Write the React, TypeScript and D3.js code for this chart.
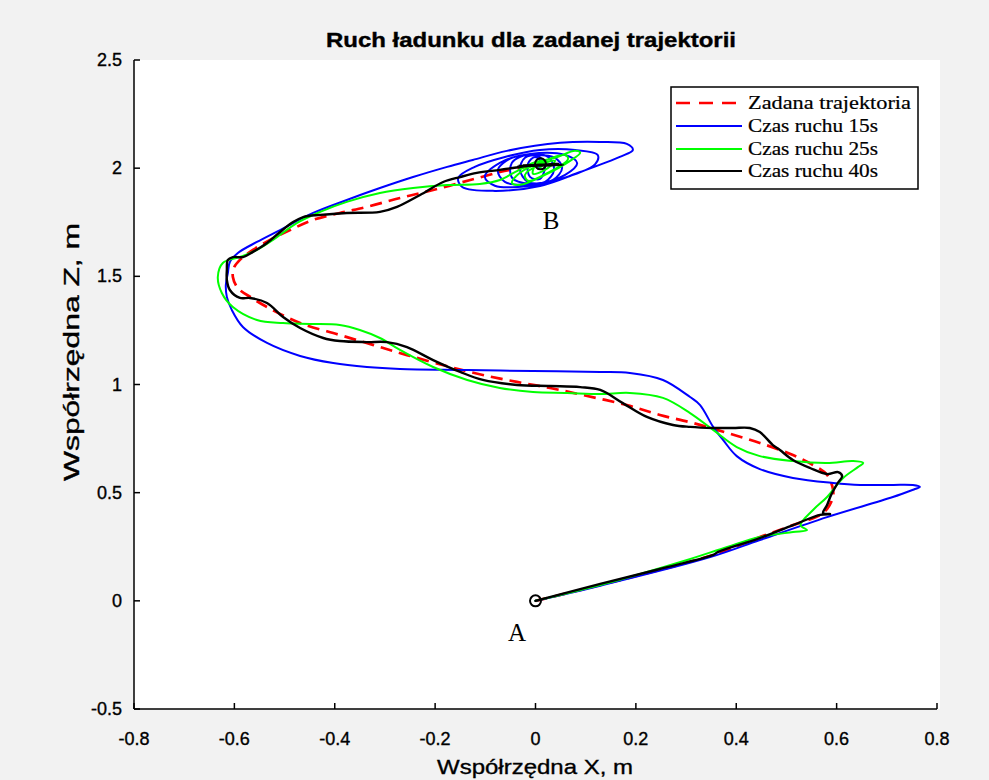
import React from 'react';
import * as d3 from 'd3';

type P = [number, number];

const xTicks = [-0.8, -0.6, -0.4, -0.2, 0, 0.2, 0.4, 0.6, 0.8];
const xTickLabels = ['-0.8', '-0.6', '-0.4', '-0.2', '0', '0.2', '0.4', '0.6', '0.8'];
const yTicks = [-0.5, 0, 0.5, 1, 1.5, 2, 2.5];
const yTickLabels = ['-0.5', '0', '0.5', '1', '1.5', '2', '2.5'];

const title = 'Ruch ładunku dla zadanej trajektorii';
const xLabel = 'Współrzędna X, m';
const yLabel = 'Współrzędna Z, m';

// Zadana trajektoria (reference)
const refPath: P[] = [
  [0, 0], [0.129, 0.073], [0.354, 0.212], [0.447, 0.295], [0.513, 0.350], [0.573, 0.406],
  [0.591, 0.466], [0.593, 0.512], [0.581, 0.582], [0.553, 0.628], [0.513, 0.674], [0.447, 0.730],
  [0.382, 0.776], [0.314, 0.822], [0.248, 0.859], [0.182, 0.905], [0.095, 0.951], [0.029, 0.984],
  [-0.037, 1.012], [-0.105, 1.044], [-0.170, 1.081], [-0.256, 1.136], [-0.324, 1.183], [-0.390, 1.229],
  [-0.469, 1.284], [-0.535, 1.358], [-0.565, 1.400], [-0.593, 1.446], [-0.603, 1.497], [-0.601, 1.539],
  [-0.589, 1.576], [-0.563, 1.622], [-0.529, 1.668], [-0.489, 1.714], [-0.443, 1.761], [-0.390, 1.793],
  [-0.336, 1.821], [-0.270, 1.862], [-0.204, 1.899], [-0.130, 1.945], [-0.071, 1.982], [-0.031, 2.001],
  [0.009, 2.019],
];

// Czas ruchu 15s
const path15: P[] = [
  [0, 0], [0.129, 0.070], [0.348, 0.202], [0.447, 0.281], [0.581, 0.387], [0.712, 0.480],
  [0.756, 0.517], [0.766, 0.526], [0.752, 0.535], [0.712, 0.536], [0.647, 0.536], [0.593, 0.545],
  [0.513, 0.568], [0.447, 0.609], [0.401, 0.669], [0.374, 0.743], [0.354, 0.804], [0.328, 0.905],
  [0.308, 0.942], [0.254, 1.021], [0.188, 1.053], [0.129, 1.058], [-0.005, 1.062], [-0.136, 1.067],
  [-0.270, 1.072], [-0.336, 1.081], [-0.403, 1.099], [-0.469, 1.132], [-0.535, 1.192], [-0.583, 1.266],
  [-0.605, 1.344], [-0.615, 1.405], [-0.617, 1.460], [-0.613, 1.515], [-0.609, 1.566], [-0.593, 1.608],
  [-0.555, 1.659], [-0.509, 1.714], [-0.443, 1.793], [-0.376, 1.853], [-0.310, 1.908], [-0.244, 1.959],
  [-0.176, 2.006], [-0.125, 2.038], [-0.057, 2.080],
  [0.049, 2.117], [0.129, 2.121], [0.182, 2.112], [0.194, 2.084], [0.168, 2.052], [0.089, 1.982],
  [0.009, 1.918], [-0.081, 1.895], [-0.146, 1.913], [-0.154, 1.955], [-0.121, 2.006], [-0.061, 2.052],
  [0.009, 2.084],
  [0.079, 2.084], [0.124, 2.061], [0.119, 2.019], [0.069, 1.964], [-0.011, 1.919], [-0.081, 1.919],
  [-0.101, 1.960], [-0.071, 2.025], [-0.011, 2.066],
  [0.059, 2.061], [0.083, 2.024], [0.059, 1.969], [-0.001, 1.928], [-0.061, 1.937], [-0.075, 1.992],
  [-0.047, 2.048], [-0.001, 2.061],
  [0.039, 2.048], [0.053, 2.001], [0.035, 1.946], [-0.011, 1.928], [-0.047, 1.956], [-0.047, 2.025],
  [-0.011, 2.066],
  [0.025, 2.052], [0.037, 1.992], [0.019, 1.937], [-0.015, 1.937], [-0.031, 1.992], [-0.021, 2.048],
  [0.003, 2.057],
  [0.019, 2.020], [0.009, 1.951], [-0.011, 1.960], [-0.015, 2.020], [-0.001, 2.052], [0.013, 2.020],
  [0.005, 1.997],
];

// Czas ruchu 25s
const path25: P[] = [
  [0, 0], [0.129, 0.073], [0.302, 0.189], [0.382, 0.249], [0.447, 0.295], [0.513, 0.318],
  [0.541, 0.327], [0.528, 0.350], [0.553, 0.420], [0.581, 0.480], [0.613, 0.568], [0.643, 0.619],
  [0.653, 0.637], [0.633, 0.646], [0.581, 0.637], [0.513, 0.646], [0.447, 0.669], [0.401, 0.711],
  [0.354, 0.790], [0.308, 0.868], [0.254, 0.938], [0.188, 0.961], [0.129, 0.956], [0.063, 0.961],
  [-0.005, 0.965], [-0.071, 0.984], [-0.136, 1.021], [-0.204, 1.081], [-0.270, 1.160], [-0.310, 1.215],
  [-0.350, 1.252], [-0.390, 1.275], [-0.449, 1.280], [-0.503, 1.284], [-0.555, 1.298], [-0.603, 1.358],
  [-0.625, 1.423], [-0.633, 1.497], [-0.623, 1.562], [-0.589, 1.589], [-0.555, 1.622], [-0.523, 1.668],
  [-0.475, 1.747], [-0.429, 1.798], [-0.376, 1.844], [-0.310, 1.885], [-0.244, 1.908], [-0.176, 1.922],
  [-0.111, 1.927], [-0.071, 1.945], [-0.041, 1.982], [-0.005, 2.024],
  [0.039, 2.048], [0.079, 2.080], [0.089, 2.071], [0.069, 2.034], [0.019, 1.969], [-0.031, 1.923],
  [-0.047, 1.932], [-0.031, 1.979], [0.009, 2.025], [0.059, 2.061], [0.065, 2.043], [0.025, 1.979],
  [-0.015, 1.942], [-0.021, 1.969], [0.009, 2.016], [0.039, 2.034], [0.019, 1.992], [-0.005, 1.974],
  [-0.001, 2.011], [0.019, 2.030], [0.009, 2.002],
];

// Czas ruchu 40s
const path40: P[] = [
  [0, 0], [0.129, 0.078], [0.248, 0.147], [0.354, 0.212], [0.364, 0.226], [0.447, 0.290],
  [0.513, 0.350], [0.567, 0.397], [0.587, 0.401], [0.573, 0.406], [0.581, 0.443], [0.589, 0.489],
  [0.601, 0.540], [0.611, 0.577], [0.603, 0.595], [0.581, 0.586], [0.547, 0.614], [0.513, 0.651],
  [0.487, 0.697], [0.473, 0.720], [0.447, 0.780], [0.427, 0.799], [0.394, 0.799], [0.354, 0.799],
  [0.308, 0.804], [0.274, 0.813], [0.222, 0.850], [0.174, 0.914], [0.129, 0.975], [0.089, 0.988],
  [0.029, 0.993], [-0.037, 0.998], [-0.105, 1.021], [-0.150, 1.058], [-0.204, 1.113], [-0.256, 1.173],
  [-0.296, 1.196], [-0.336, 1.196], [-0.390, 1.201], [-0.423, 1.215], [-0.469, 1.261], [-0.503, 1.312],
  [-0.535, 1.377], [-0.569, 1.400], [-0.589, 1.400], [-0.609, 1.437], [-0.615, 1.483], [-0.615, 1.529],
  [-0.613, 1.576], [-0.603, 1.589], [-0.583, 1.589], [-0.563, 1.613], [-0.535, 1.654], [-0.509, 1.705],
  [-0.483, 1.751], [-0.463, 1.774], [-0.429, 1.784], [-0.376, 1.793], [-0.310, 1.798], [-0.276, 1.821],
  [-0.230, 1.876], [-0.184, 1.936], [-0.150, 1.959], [-0.117, 1.978], [-0.071, 1.992], [-0.045, 2.001],
  [0.009, 2.015], [0.055, 2.015], [-0.035, 2.010], [0.045, 2.020], [-0.025, 2.012], [0.035, 2.018],
  [0.005, 2.015],
];

const seriesNames = ['Zadana trajektoria', 'Czas ruchu 15s', 'Czas ruchu 25s', 'Czas ruchu 40s'];
const seriesColors = ['#ff0000', '#0000ff', '#00ff00', '#000000'];
const seriesData = [refPath, path15, path25, path40];

// markers: start A and end B
const markerPoints: P[] = [[0, 0], [0.01, 2.02]];
const pointLabels = ['A', 'B'];
const pointLabelPos: P[] = [[-0.037, -0.186], [0.031, 1.719]];

const W = 989;
const H = 780;
const L = 134, R = 937, T = 60, B = 709;

export default function App() {
  const x = d3.scaleLinear().domain([-0.8, 0.8]).range([L, R]);
  const y = d3.scaleLinear().domain([-0.5, 2.5]).range([B, T]);
  const line = d3
    .line<P>()
    .x((d) => x(d[0]))
    .y((d) => y(d[1]))
    .curve(d3.curveCatmullRom.alpha(0.5));

  const sans = 'Liberation Sans, Arial, Helvetica, sans-serif';
  const serif = 'Liberation Serif, Times New Roman, serif';

  const legX = 671, legY = 87, legW = 247, legH = 102;
  const legRows = [103, 126, 149, 171];

  return (
    <svg
      width={W}
      height={H}
      viewBox={`0 0 ${W} ${H}`}
      style={{ position: 'absolute', left: 0, top: 0, display: 'block' }}
    >
      <rect x={0} y={0} width={W} height={H} fill="#f2f2f2" />
      <rect x={L} y={T} width={R - L + 3} height={B - T} fill="#ffffff" />

      {/* title */}
      <text
        x={531}
        y={47}
        textAnchor="middle"
        fontFamily={sans}
        fontWeight="bold"
        fontSize={21}
        textLength={410}
        lengthAdjust="spacingAndGlyphs"
        stroke="#000"
        strokeWidth={0.4}
      >
        {title}
      </text>

      {/* series */}
      {seriesData.map((d, i) => (
        <path
          key={i}
          d={line(d) || ''}
          fill="none"
          stroke={seriesColors[i]}
          strokeWidth={i === 0 ? 2.7 : i === 3 ? 2.4 : 2}
          strokeDasharray={i === 0 ? '12,7' : undefined}
          strokeLinejoin="round"
          strokeLinecap={i === 0 ? 'butt' : 'round'}
        />
      ))}

      {/* markers */}
      {markerPoints.map((p, i) => (
        <circle key={i} cx={x(p[0])} cy={y(p[1])} r={5.5} fill="none" stroke="#000" strokeWidth={2} />
      ))}
      {pointLabels.map((t, i) => (
        <text
          key={t}
          x={x(pointLabelPos[i][0])}
          y={y(pointLabelPos[i][1])}
          textAnchor="middle"
          fontFamily={serif}
          fontSize={25}
        >
          {t}
        </text>
      ))}

      {/* axes */}
      <line x1={L} y1={T} x2={L} y2={B} stroke="#000" strokeWidth={1.5} />
      <line x1={L} y1={B} x2={R} y2={B} stroke="#000" strokeWidth={1.5} />
      {xTicks.map((t, i) => (
        <g key={'x' + i}>
          <line x1={x(t)} x2={x(t)} y1={B} y2={B - 6} stroke="#000" strokeWidth={1.5} />
          <text
            x={x(t)}
            y={745}
            textAnchor="middle"
            fontFamily={sans}
            fontSize={18}
            stroke="#000"
            strokeWidth={0.35}
          >
            {xTickLabels[i]}
          </text>
        </g>
      ))}
      {yTicks.map((t, i) => (
        <g key={'y' + i}>
          <line x1={L} x2={L + 6} y1={y(t)} y2={y(t)} stroke="#000" strokeWidth={1.5} />
          <text
            x={122}
            y={y(t) + 6}
            textAnchor="end"
            fontFamily={sans}
            fontSize={18}
            stroke="#000"
            strokeWidth={0.35}
          >
            {yTickLabels[i]}
          </text>
        </g>
      ))}

      <text
        x={535}
        y={774}
        textAnchor="middle"
        fontFamily={sans}
        fontSize={21}
        textLength={196}
        lengthAdjust="spacingAndGlyphs"
        stroke="#000"
        strokeWidth={0.35}
      >
        {xLabel}
      </text>
      <text
        transform={`translate(79,352) rotate(-90)`}
        textAnchor="middle"
        fontFamily={sans}
        fontSize={22}
        textLength={258}
        lengthAdjust="spacingAndGlyphs"
        stroke="#000"
        strokeWidth={0.35}
      >
        {yLabel}
      </text>

      {/* legend */}
      <rect x={legX} y={legY} width={legW} height={legH} fill="#fff" stroke="#000" strokeWidth={1.5} />
      {seriesNames.map((n, i) => (
        <g key={n}>
          <line
            x1={676}
            x2={742}
            y1={legRows[i]}
            y2={legRows[i]}
            stroke={seriesColors[i]}
            strokeWidth={i === 0 ? 2.6 : 2}
            strokeDasharray={i === 0 ? '14,9' : undefined}
          />
          <text
            x={748}
            y={legRows[i] + 6}
            fontFamily={serif}
            fontSize={18}
            textLength={i === 0 ? 163 : 130}
            lengthAdjust="spacingAndGlyphs"
            stroke="#000"
            strokeWidth={0.2}
          >
            {n}
          </text>
        </g>
      ))}
    </svg>
  );
}
